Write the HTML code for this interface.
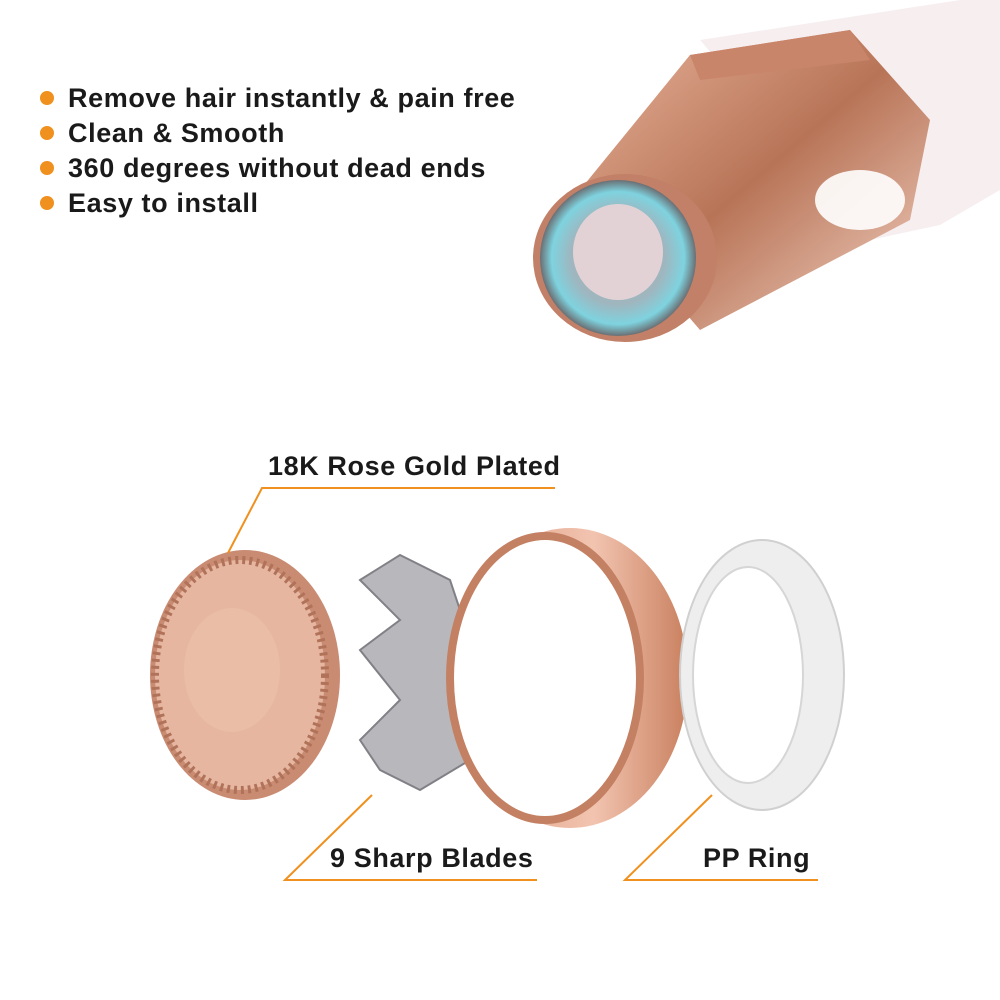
<!DOCTYPE html>
<html><head><style>
body{margin:0;width:1000px;height:1000px;background:#fff;overflow:hidden;font-family:"Liberation Sans",sans-serif}
.t{position:absolute;font-size:27px;font-weight:bold;color:#1a1a1a;white-space:nowrap;letter-spacing:0.6px}
.dot{position:absolute;width:14px;height:14px;border-radius:50%;background:#f0901e}
</style></head><body>
<svg width="1000" height="1000" style="position:absolute;left:0;top:0">
<defs>
<linearGradient id="rg" x1="0" y1="0" x2="1" y2="1">
<stop offset="0" stop-color="#e8b49c"/><stop offset="0.5" stop-color="#b87457"/><stop offset="1" stop-color="#f5d6c8"/></linearGradient>
<linearGradient id="rg2" x1="0" y1="0" x2="1" y2="0">
<stop offset="0" stop-color="#d9967a"/><stop offset="0.6" stop-color="#f2c4b0"/><stop offset="1" stop-color="#c9805f"/></linearGradient>
<radialGradient id="blue" cx="0.5" cy="0.5" r="0.5">
<stop offset="0.6" stop-color="#9fb6bf"/><stop offset="0.85" stop-color="#7ed3df"/><stop offset="1" stop-color="#6a6f74"/></radialGradient>
</defs>
<polygon points="700,40 960,0 1000,0 1000,190 940,225 870,240" fill="#f7eef0"/>
<polygon points="580,190 690,55 850,30 930,120 910,220 700,330" fill="url(#rg)"/>
<polygon points="690,55 850,30 870,60 700,80" fill="#c9856a"/>
<ellipse cx="860" cy="200" rx="45" ry="30" fill="#fff" opacity="0.9"/>
<ellipse cx="625" cy="258" rx="92" ry="84" fill="#c18067"/>
<ellipse cx="618" cy="258" rx="78" ry="78" fill="url(#blue)"/>
<ellipse cx="618" cy="252" rx="45" ry="48" fill="#e2d2d6"/>
<ellipse cx="245" cy="675" rx="95" ry="125" fill="#c98c73"/>
<ellipse cx="240" cy="675" rx="85" ry="115" fill="#e6b6a0" stroke="#b0735a" stroke-width="8" stroke-dasharray="3 4"/>
<ellipse cx="232" cy="670" rx="48" ry="62" fill="#e9bda6"/>
<g fill="#b8b8bc" stroke="#808086" stroke-width="2">
<polygon points="360,580 400,555 450,580 470,640 460,700 470,760 420,790 380,770 360,740 400,700 360,650 400,620"/>
</g>
<ellipse cx="570" cy="678" rx="118" ry="150" fill="url(#rg2)"/>
<ellipse cx="545" cy="678" rx="95" ry="142" fill="#fff" stroke="#c48063" stroke-width="8"/>
<ellipse cx="762" cy="675" rx="82" ry="135" fill="#eeeeee" stroke="#d0d0d0" stroke-width="2"/>
<ellipse cx="748" cy="675" rx="55" ry="108" fill="#fff" stroke="#d6d6d6" stroke-width="2"/>
<g stroke="#f0901e" stroke-width="2" fill="none">
<polyline points="555,488 262,488 228,553"/>
<polyline points="537,880 285,880 372,795"/>
<polyline points="818,880 625,880 712,795"/>
</g>
</svg>
<div class="dot" style="left:40px;top:91px"></div><div class="t" style="left:68px;top:83px">Remove hair instantly &amp; pain free</div>
<div class="dot" style="left:40px;top:126px"></div><div class="t" style="left:68px;top:118px">Clean &amp; Smooth</div>
<div class="dot" style="left:40px;top:161px"></div><div class="t" style="left:68px;top:153px">360 degrees without dead ends</div>
<div class="dot" style="left:40px;top:196px"></div><div class="t" style="left:68px;top:188px">Easy to install</div>
<div class="t" style="left:268px;top:451px">18K Rose Gold Plated</div>
<div class="t" style="left:330px;top:843px">9 Sharp Blades</div>
<div class="t" style="left:703px;top:843px">PP Ring</div>
</body></html>
